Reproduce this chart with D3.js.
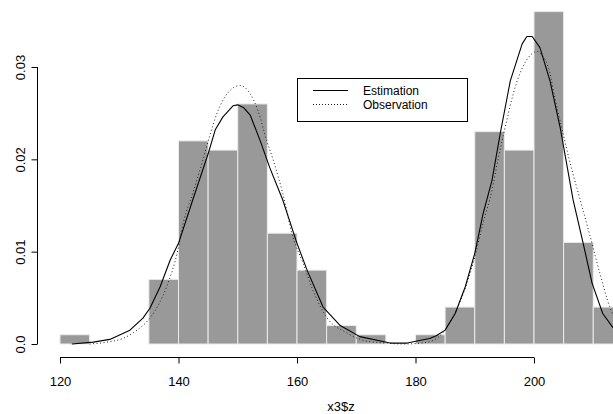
<!DOCTYPE html>
<html><head><meta charset="utf-8">
<script src="https://cdn.jsdelivr.net/npm/d3@7"></script>
<style>body{margin:0;background:#fff}svg{display:block}text{font-family:"Liberation Sans",Arial,sans-serif;fill:#000}</style>
</head><body><svg id="c" width="613" height="414"></svg>
<script>
// Histogram (density), 5-unit bins
const binStarts = [120,125,130,135,140,145,150,155,160,165,170,175,180,185,190,195,200,205,210];
const binDensity = [0.001,0,0,0.007,0.022,0.021,0.026,0.012,0.008,0.002,0.001,0,0.001,0.004,0.023,0.021,0.036,0.011,0.004];
const binWidth = 5;
// Estimation curve (solid)
const estX = [122,125.6,128.4,131.8,134,135.2,136.9,138.6,140,142.4,145,146.2,147.5,149.2,150,151,152.1,153.8,155.4,157.6,160,161.7,164.4,167.3,170.6,175.7,178.6,182.4,183.5,185,186.7,188.4,190,191.4,192.9,194.3,196,198,198.8,199.7,201,202.7,204.4,206.6,208.3,209.8,211.6,213.3,216];
const estY = [0,0.0002,0.0005,0.0015,0.0028,0.0039,0.0062,0.0091,0.0109,0.0156,0.0206,0.0232,0.0246,0.0258,0.0259,0.0256,0.0248,0.022,0.0191,0.0156,0.0109,0.008,0.004,0.002,0.0008,0.0001,0.0001,0.0006,0.0009,0.0015,0.0033,0.0062,0.0098,0.0141,0.0177,0.0228,0.0285,0.0325,0.0333,0.0333,0.0321,0.0285,0.0235,0.0156,0.0109,0.0066,0.0033,0.0018,0.0006];
// Observation curve (dotted)
const obsX = [125,127.9,130.6,133,135.5,138,139.9,140.8,142.5,144.1,145.3,146.5,148.2,150.4,152.1,153.4,154.9,156,157.6,159.3,161,162.7,165,168.4,171.8,175,177.9,181,183,184.6,186.3,188.7,190,191.4,192.9,193.9,195.4,196.5,198.1,199.8,200.5,201,202.7,203.5,204.4,206.1,207.8,209.5,211.1,212.8,215];
const obsY = [0,0.0002,0.0006,0.0015,0.0031,0.0062,0.0102,0.0131,0.0165,0.0199,0.0226,0.025,0.0271,0.028,0.0271,0.0253,0.022,0.0199,0.0163,0.0116,0.0088,0.0058,0.0029,0.0012,0.0003,0.0001,0,0.0001,0.0004,0.0012,0.0029,0.0066,0.0094,0.0131,0.0166,0.0199,0.0242,0.0271,0.03,0.0315,0.0317,0.0315,0.0293,0.0267,0.0242,0.0196,0.0156,0.0116,0.0077,0.004,0.0015];
const xTicks = [120,140,160,180,200];
const yTicks = [0,0.01,0.02,0.03];
const yTickLabels = ["0.0","0.01","0.02","0.03"];
const legendLabels = ["Estimation","Observation"];
const xTitle = "x3$z";

const svg = d3.select("#c");
const x = d3.scaleLinear().domain([120,200]).range([60,534]);
const y = d3.scaleLinear().domain([0,0.03]).range([344,67]);
const FS = 13;

// bars
svg.append("g").selectAll("rect").data(binStarts).join("rect")
  .attr("x", (d)=>x(d)).attr("width", (d)=>x(d+binWidth)-x(d))
  .attr("y", (d,i)=>y(binDensity[i])).attr("height", (d,i)=>y(0)-y(binDensity[i]))
  .attr("fill","#999999").attr("stroke","#ebebeb").attr("stroke-width",1);

// curves
const est = estX.map((v,i)=>[v,estY[i]]);
const obs = obsX.map((v,i)=>[v,obsY[i]]);
const lineObs = d3.line().x(d=>x(d[0])).y(d=>y(d[1])).curve(d3.curveMonotoneX);
const lineEst = d3.line().x(d=>x(d[0])).y(d=>y(d[1])).curve(d3.curveLinear);
svg.append("path").attr("d", lineObs(obs)).attr("fill","none").attr("stroke","#222").attr("stroke-width",1).attr("stroke-dasharray","1,2.5");
svg.append("path").attr("d", lineEst(est)).attr("fill","none").attr("stroke","#000").attr("stroke-width",1.1).attr("stroke-linejoin","round");

// x axis
const xa = svg.append("g").attr("transform","translate(0,357.5)")
  .call(d3.axisBottom(x).tickValues(xTicks).tickSize(6).tickPadding(13).tickFormat(d3.format("d")));
xa.select(".domain").remove();
xa.append("line").attr("x1",x(120)).attr("x2",x(200)).attr("stroke","#000");
xa.selectAll("text").attr("font-size",FS).attr("font-family","Liberation Sans, Arial, sans-serif").attr("fill","#000");

// y axis
const ya = svg.append("g").attr("transform","translate(37.5,0)")
  .call(d3.axisLeft(y).tickValues(yTicks).tickSize(6).tickFormat((d,i)=>yTickLabels[i]));
ya.select(".domain").remove();
ya.append("line").attr("y1",y(0)).attr("y2",y(0.03)).attr("stroke","#000");
ya.selectAll("text").attr("font-size",FS).attr("font-family","Liberation Sans, Arial, sans-serif").attr("fill","#000")
  .attr("text-anchor","middle").attr("dy",null).attr("x",null)
  .attr("transform","translate(-12.5,0) rotate(-90)");
ya.selectAll(".tick text").attr("y",0);

// x title
svg.append("text").attr("x",341).attr("y",410.5).attr("text-anchor","middle").attr("font-size",FS).text(xTitle);

// legend
const lg = svg.append("g");
lg.append("rect").attr("x",297.5).attr("y",78.5).attr("width",170).attr("height",43).attr("fill","none").attr("stroke","#000");
const rows = [90.5,104.5];
lg.selectAll("line.s").data(legendLabels).join("line")
  .attr("x1",313).attr("x2",348).attr("y1",(d,i)=>rows[i]).attr("y2",(d,i)=>rows[i])
  .attr("stroke",(d,i)=>i?"#222":"#000").attr("stroke-dasharray",(d,i)=>i?"1,2":null);
lg.selectAll("text").data(legendLabels).join("text")
  .attr("x",363).attr("y",(d,i)=>rows[i]+4.5).attr("font-size",12).text(d=>d);
</script></body></html>
